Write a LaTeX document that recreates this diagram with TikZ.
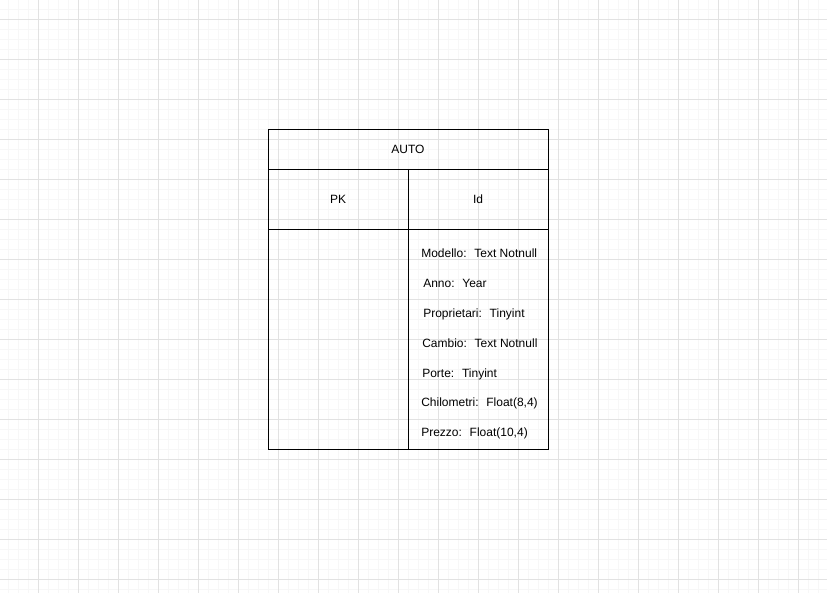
\documentclass[tikz,border=0pt]{standalone}
\usepackage{fontspec}
\setmainfont{Liberation Sans}
\usetikzlibrary{positioning}
\definecolor{gridminor}{RGB}{247,247,247}
\definecolor{gridmajor}{RGB}{226,226,226}
\tikzstyle{cell} = [rectangle, draw = black, line width = 0.75pt, inner sep = 0pt, outer sep = 0pt, text centered, font = \fontsize{9}{11}\selectfont]
\tikzstyle{attr} = [anchor = base west, inner sep = 0pt, font = \fontsize{9}{11}\selectfont]

\begin{document}
\begin{tikzpicture}[x = 0.75pt, y = -0.75pt]
\useasboundingbox (0,0) rectangle (827,593);
\fill[white] (0,0) rectangle (827,593);

% background grid
\foreach \x in {8,18,...,826} \draw[gridminor, line width = 0.75pt] (\x,0) -- (\x,593);
\foreach \y in {9,19,...,592} \draw[gridminor, line width = 0.75pt] (0,\y) -- (827,\y);
\foreach \x in {38,78,...,826} \draw[gridmajor, line width = 0.75pt] (\x,0) -- (\x,593);
\foreach \y in {19,59,...,592} \draw[gridmajor, line width = 0.75pt] (0,\y) -- (827,\y);

% table
\node(title) [cell, minimum width = 210pt, minimum height = 30pt] at (408,149) {AUTO};
\node(pk) [cell, minimum width = 105pt, minimum height = 45pt, anchor = north west] at (title.south west) {PK};
\node(id) [cell, minimum width = 105pt, minimum height = 45pt, anchor = north west] at (pk.north east) {Id};
\node(keys) [cell, minimum width = 105pt, minimum height = 165pt, anchor = north west] at (pk.south west) {};
\node(fields) [cell, minimum width = 105pt, minimum height = 165pt, anchor = north west] at (id.south west) {};

% attributes (base line)
\foreach \x/\y/\txt [count = \i] in {421/257/{Modello:~ Text Notnull}, 423/287/{Anno:~ Year}, 423/317/{Proprietari:~ Tinyint}, 422/347/{Cambio:~ Text Notnull}, 422/377/{Porte:~ Tinyint}, 421/406/{Chilometri:~ Float(8,4)}, 421/436/{Prezzo:~ Float(10,4)}}
  \node(attr\i) [attr] at (\x,\y) {\txt};

\end{tikzpicture}
\end{document}
